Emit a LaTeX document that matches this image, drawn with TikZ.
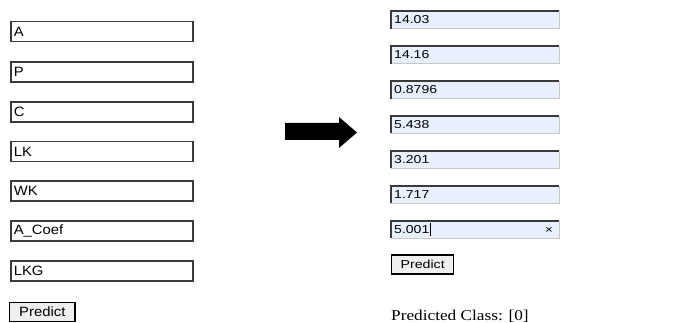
\documentclass[tikz,border=0pt]{standalone}
\usepackage{fontspec}
\setmainfont[FakeStretch=1.15]{Liberation Serif}
\newfontfamily\leftfont[FakeStretch=1.1]{Liberation Sans}
\newfontfamily\rightfont[FakeStretch=1.22]{Liberation Sans}
\definecolor{fieldblue}{HTML}{E8F0FE}
\definecolor{btnfill}{HTML}{EFEFEF}
\definecolor{edgedark}{HTML}{3A3A3A}
\definecolor{edgelight}{HTML}{C8C8C8}
\tikzset{
  plainfield/.style={draw=edgedark, line width=1.6pt, fill=white,
    minimum height=20pt, text width=176pt, inner xsep=3pt, inner ysep=0pt,
    align=left, font=\leftfont\fontsize{13.5}{15}\selectfont, anchor=west},
  filledfield/.style={fill=fieldblue, minimum height=17pt, text width=162pt,
    inner xsep=3pt, inner ysep=0pt, align=left,
    font=\rightfont\fontsize{11.5}{13}\selectfont, anchor=west},
  button/.style={draw=black, line width=1.4pt, fill=btnfill,
    inner ysep=0pt, minimum height=19pt, anchor=west}
}
% sunken border of a filled field: dark top/left, light bottom/right
\newcommand{\sunken}[1]{%
  \draw[edgelight, line width=1pt] (#1.north east) -- (#1.south east) -- (#1.south west);
  \draw[edgedark, line width=1.6pt] (#1.south west) -- (#1.north west) -- (#1.north east);
}
\begin{document}
\begin{tikzpicture}[x=1pt,y=-1pt]
\useasboundingbox[fill=white] (0,0) rectangle (682,323);

% empty form
\node[plainfield] (fa)   at (10,31.5)  {A};
\node[plainfield] (fp)   at (10,72)    {P};
\node[plainfield] (fc)   at (10,112)   {C};
\node[plainfield] (flk)  at (10,151.5) {LK};
\node[plainfield] (fwk)  at (10,191)   {WK};
\node[plainfield] (fac)  at (10,231)   {A\_Coef};
\node[plainfield] (flkg) at (10,271)   {LKG};
\node[button, inner xsep=9.5pt, font=\leftfont\fontsize{13.5}{15}\selectfont] (bl) at (9,312) {Predict};

% arrow between the two forms
\fill[black] (285,123) -- (339,123) -- (339,117) -- (357,132.5)
  -- (339,148) -- (339,140) -- (285,140) -- cycle;

% filled form
\node[filledfield] (g1) at (391,20)    {14.03};
\node[filledfield] (g2) at (391,55)    {14.16};
\node[filledfield] (g3) at (391,90)    {0.8796};
\node[filledfield] (g4) at (391,124.5) {5.438};
\node[filledfield] (g5) at (391,159.5) {3.201};
\node[filledfield] (g6) at (391,194.5) {1.717};
\node[filledfield] (g7) at (391,229.5) {5.001\hspace{0.6pt}\rule[-2.5pt]{0.8pt}{13pt}};
\foreach \f in {g1,g2,g3,g4,g5,g6,g7} {\sunken{\f}}
\node[font=\rightfont\fontsize{11}{13}\selectfont, anchor=center] (clr) at (549,230.5) {×};
\node[button, inner xsep=9pt, font=\rightfont\fontsize{11.6}{13}\selectfont] (br) at (391,264.5) {Predict};
\node[anchor=base west, inner sep=0pt, font=\fontsize{15}{17}\selectfont] (res) at (391,320.2) {Predicted Class: [0]};
\end{tikzpicture}
\end{document}
